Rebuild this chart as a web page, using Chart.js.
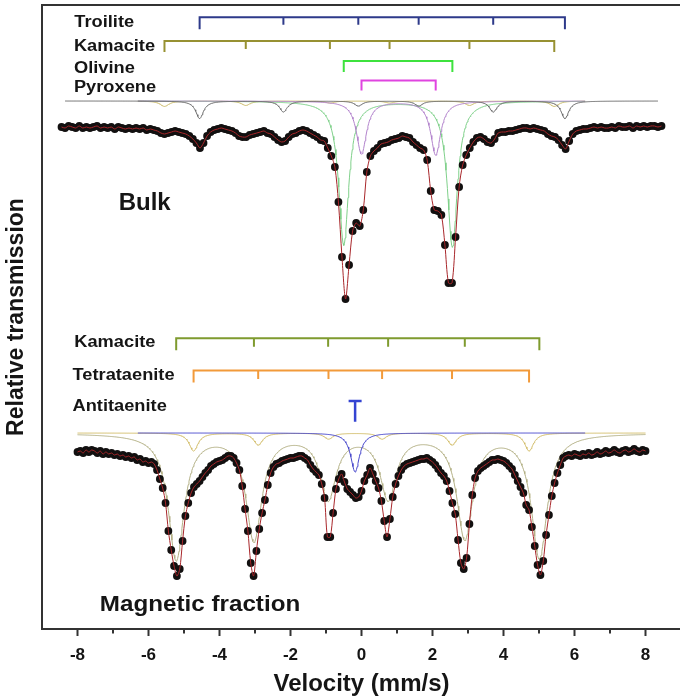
<!DOCTYPE html>
<html>
<head>
<meta charset="utf-8">
<script src="https://cdn.jsdelivr.net/npm/chart.js@4.4.0/dist/chart.umd.min.js"></script>
<style>
  html, body { margin: 0; padding: 0; background: #fff; overflow: hidden; }
  #wrap { width: 680px; height: 699px; overflow: hidden; }
</style>
</head>
<body>
<div id="wrap"><canvas id="spectrum-chart" width="690" height="699"></canvas></div>
<script>
// velocity calibration of the channels (mm/s)
const bulkV0 = -8.45, bulkStep = 0.1;
const magV0 = -8.0, magStep = 0.08;

// bulk sample, relative transmission (%)
const bulkT = [
  100.00, 99.95, 100.05, 100.00, 99.95, 100.05, 99.95, 100.00, 99.95, 100.00,
  100.05, 99.95, 100.00, 99.95, 100.00, 99.90, 100.00, 99.95, 99.90, 99.95,
  99.90, 99.95, 99.90, 99.95, 99.85, 99.90, 99.85, 99.80, 99.70, 99.65,
  99.70, 99.75, 99.80, 99.75, 99.70, 99.65, 99.55, 99.40, 99.20, 98.95,
  99.20, 99.55, 99.75, 99.85, 99.90, 99.95, 99.90, 99.85, 99.80, 99.70,
  99.55, 99.50, 99.50, 99.60, 99.65, 99.70, 99.75, 99.80, 99.70, 99.65,
  99.50, 99.35, 99.25, 99.30, 99.50, 99.65, 99.70, 99.80, 99.85, 99.80,
  99.70, 99.60, 99.50, 99.35, 99.30, 98.95, 98.55, 98.00, 96.25, 93.50,
  91.40, 93.10, 94.80, 95.20, 95.05, 95.85, 97.75, 98.55, 98.80, 98.95,
  99.15, 99.20, 99.25, 99.35, 99.40, 99.45, 99.55, 99.50, 99.45, 99.25,
  99.10, 98.95, 98.85, 98.35, 96.80, 95.85, 95.80, 95.60, 94.10, 92.20,
  92.20, 94.50, 97.00, 98.10, 98.60, 98.95, 99.25, 99.45, 99.50, 99.40,
  99.25, 99.20, 99.40, 99.70, 99.75, 99.75, 99.80, 99.80, 99.85, 99.90,
  99.95, 99.95, 99.90, 99.95, 99.90, 99.85, 99.80, 99.65, 99.55, 99.50,
  99.35, 99.10, 98.90, 99.30, 99.65, 99.80, 99.85, 99.90, 99.90, 99.95,
  100.00, 99.95, 100.00, 99.95, 99.95, 100.00, 99.95, 100.05, 100.00, 100.00,
  100.05, 99.95, 100.05, 100.00, 100.05, 100.00, 100.05, 100.05, 100.00, 100.05
];

// magnetic fraction, relative transmission (%)
const magT = [
  100.05, 100.10, 100.00, 100.15, 100.05, 100.15, 100.10, 100.00, 100.10, 99.95,
  100.05, 99.95, 100.00, 99.90, 99.95, 99.85, 99.90, 99.80, 99.85, 99.75,
  99.80, 99.65, 99.70, 99.55, 99.60, 99.50, 99.55, 99.45, 99.15, 98.70,
  98.25, 97.50, 96.10, 95.15, 94.35, 93.85, 94.20, 95.60, 96.85, 97.50,
  98.00, 98.30, 98.45, 98.60, 98.80, 99.00, 99.15, 99.35, 99.45, 99.55,
  99.60, 99.65, 99.75, 99.85, 99.85, 99.75, 99.50, 99.15, 98.35, 97.20,
  96.10, 94.50, 93.85, 95.10, 96.20, 97.00, 97.65, 98.40, 99.00, 99.30,
  99.45, 99.50, 99.60, 99.65, 99.70, 99.75, 99.75, 99.80, 99.85, 99.85,
  99.75, 99.65, 99.40, 99.20, 99.05, 98.90, 98.45, 97.75, 95.80, 95.80,
  97.00, 98.20, 98.70, 98.95, 98.55, 98.20, 98.05, 97.90, 97.75, 97.80,
  98.10, 98.60, 98.90, 99.25, 98.95, 98.60, 98.25, 97.60, 96.60, 95.80,
  96.70, 97.80, 98.45, 98.85, 99.15, 99.35, 99.45, 99.50, 99.55, 99.60,
  99.65, 99.70, 99.70, 99.75, 99.65, 99.55, 99.40, 99.20, 99.00, 98.85,
  98.60, 98.10, 97.50, 96.95, 95.65, 94.50, 94.20, 94.75, 96.45, 97.90,
  98.75, 99.10, 99.25, 99.35, 99.45, 99.55, 99.65, 99.65, 99.70, 99.65,
  99.60, 99.50, 99.35, 99.20, 98.90, 98.60, 98.30, 98.00, 97.40, 97.15,
  96.30, 95.35, 94.40, 93.90, 94.60, 95.90, 96.90, 97.85, 98.50, 99.00,
  99.40, 99.75, 99.85, 99.90, 99.85, 99.95, 99.90, 99.85, 99.95, 99.90,
  100.00, 99.90, 99.95, 100.05, 99.95, 100.00, 100.10, 100.00, 100.05, 100.15,
  100.05, 100.00, 100.10, 100.15, 100.05, 100.10, 100.20, 100.10, 100.05, 100.15,
  100.10
];

// sub-spectra: line positions (mm/s), depths (%), half widths (mm/s)
const troiliteLines = [-4.56, -2.20, -0.09, 1.61, 3.71, 5.73];
const troiliteDepth = [0.88, 0.55, 0.25, 0.25, 0.55, 0.88];
const bulkKamaciteLines = [-5.55, -3.26, -0.89, 0.79, 3.04, 5.43];
const bulkKamaciteDepth = [0.27, 0.22, 0.10, 0.10, 0.22, 0.27];
const olivineLines = [-0.50, 2.56];
const olivineDepth = [7.2, 7.3];
const pyroxeneLines = [0.00, 2.09];
const pyroxeneDepth = [2.65, 2.70];
const magKamaciteLines = [-5.22, -3.03, -0.94, 0.75, 2.91, 5.01];
const magKamaciteDepth = [6.3, 5.3, 3.2, 3.2, 5.2, 6.2];
const tetrataeniteLines = [-4.73, -2.91, -0.93, 0.58, 2.55, 4.72];
const tetrataeniteDepth = [0.9, 0.6, 0.3, 0.3, 0.6, 0.9];
const antitaeniteLines = [-0.18];
const antitaeniteDepth = [1.95];

const xTicks = [-8, -6, -4, -2, 0, 2, 4, 6, 8];

// layout (plot units): where each spectrum and its component curves sit
const magShift = -16.3;
const bulkCompBase = 101.3;
const magCompBase = 84.7;

const FONT = "'Liberation Sans', Arial, Helvetica, sans-serif";
const INK = '#151515';
Chart.defaults.font.family = FONT;

function channelPoints(v0, step, values, shift) {
  return values.map(function (t, i) {
    return { x: +(v0 + i * step).toFixed(3), y: t + shift };
  });
}

// Lorentzian sub-spectrum from its line parameters
function subSpectrum(lines, depths, hw, base, from, to) {
  var pts = [];
  for (var v = from; v <= to + 1e-9; v += 0.02) {
    var y = base;
    for (var k = 0; k < lines.length; k++) {
      var u = (v - lines[k]) / hw;
      y -= depths[k] / (1 + u * u);
    }
    pts.push({ x: v, y: y });
  }
  return pts;
}

var bulkPts = channelPoints(bulkV0, bulkStep, bulkT, 0);
var magPts = channelPoints(magV0, magStep, magT, magShift);

function dots(pts) {
  return { data: pts, showLine: false, pointRadius: 3.9, pointBackgroundColor: '#121010',
           pointBorderWidth: 0, order: 1 };
}
function fit(pts) {
  return { data: pts, borderColor: '#a8262a', borderWidth: 1, pointRadius: 0, tension: 0.3, order: 0 };
}
function comp(pts, color, order) {
  return { data: pts, borderColor: color, borderWidth: 1, pointRadius: 0, tension: 0, order: order };
}

// brackets above each spectrum (row = plot units, tick lengths in px)
const brackets = [
  { lines: troiliteLines, row: 105.49, color: '#2e3a8a', endLen: 12, tickLen: 7.5 },
  { lines: bulkKamaciteLines, row: 104.30, color: '#979132', endLen: 11, tickLen: 8 },
  { lines: olivineLines, row: 103.30, color: '#3ee23e', endLen: 11, tickLen: 8 },
  { lines: pyroxeneLines, row: 102.32, color: '#e044e0', endLen: 10, tickLen: 8 },
  { lines: magKamaciteLines, row: 89.44, color: '#7f9b2f', endLen: 12, tickLen: 8.5 },
  { lines: tetrataeniteLines, row: 87.82, color: '#f29a3a', endLen: 12, tickLen: 8.5 }
];
const singlet = { line: antitaeniteLines[0], row: 86.30, color: '#3444d2', half: 6.5, stem: 20.7 };

const notes = [
  { text: 'Troilite', v: -8.09, t: 105.015, size: 16, sx: 1.14 },
  { text: 'Kamacite', v: -8.10, t: 103.815, size: 16, sx: 1.14 },
  { text: 'Olivine', v: -8.10, t: 102.715, size: 16, sx: 1.14 },
  { text: 'Pyroxene', v: -8.10, t: 101.765, size: 16, sx: 1.14 },
  { text: 'Bulk', v: -6.84, t: 95.85, size: 24, sx: 1.0 },
  { text: 'Kamacite', v: -8.09, t: 89.015, size: 16, sx: 1.14 },
  { text: 'Tetrataenite', v: -8.14, t: 87.35, size: 16, sx: 1.14 },
  { text: 'Antitaenite', v: -8.14, t: 85.815, size: 16, sx: 1.14 },
  { text: 'Magnetic fraction', v: -7.37, t: 75.825, size: 22, sx: 1.1 }
];

var decorations = {
  id: 'decorations',
  afterDatasetsDraw: function (chart) {
    var ctx = chart.ctx, xs = chart.scales.x, ys = chart.scales.y, area = chart.chartArea;
    ctx.save();
    // frame top
    ctx.strokeStyle = '#333';
    ctx.lineWidth = 2;
    ctx.beginPath();
    ctx.moveTo(area.left - 1, area.top);
    ctx.lineTo(chart.width, area.top);
    ctx.stroke();
    // minor ticks
    for (var m = -7; m <= 7; m += 2) {
      var mx = xs.getPixelForValue(m);
      ctx.beginPath();
      ctx.moveTo(mx, area.bottom);
      ctx.lineTo(mx, area.bottom + 4.5);
      ctx.stroke();
    }
    // brackets
    brackets.forEach(function (b) {
      var y = ys.getPixelForValue(b.row);
      var x0 = xs.getPixelForValue(b.lines[0]);
      var x1 = xs.getPixelForValue(b.lines[b.lines.length - 1]);
      ctx.strokeStyle = b.color;
      ctx.lineWidth = 2;
      ctx.beginPath();
      ctx.moveTo(x0, y + b.endLen);
      ctx.lineTo(x0, y);
      ctx.lineTo(x1, y);
      ctx.lineTo(x1, y + b.endLen);
      for (var i = 1; i < b.lines.length - 1; i++) {
        var xi = xs.getPixelForValue(b.lines[i]);
        ctx.moveTo(xi, y);
        ctx.lineTo(xi, y + b.tickLen);
      }
      ctx.stroke();
    });
    var sx = xs.getPixelForValue(singlet.line), sy = ys.getPixelForValue(singlet.row);
    ctx.strokeStyle = singlet.color;
    ctx.lineWidth = 2.5;
    ctx.beginPath();
    ctx.moveTo(sx - singlet.half, sy);
    ctx.lineTo(sx + singlet.half, sy);
    ctx.moveTo(sx, sy);
    ctx.lineTo(sx, sy + singlet.stem);
    ctx.stroke();
    // text labels
    ctx.fillStyle = INK;
    ctx.textAlign = 'left';
    ctx.textBaseline = 'alphabetic';
    notes.forEach(function (n) {
      ctx.save();
      ctx.translate(xs.getPixelForValue(n.v), ys.getPixelForValue(n.t));
      ctx.scale(n.sx, 1);
      ctx.font = 'bold ' + n.size + 'px ' + FONT;
      ctx.fillText(n.text, 0, 0);
      ctx.restore();
    });
    ctx.restore();
  }
};

function isMajor(v) { return xTicks.indexOf(v) !== -1; }

var ctx = document.getElementById('spectrum-chart').getContext('2d');
var chart = new Chart(ctx, {
  type: 'line',
  data: {
    datasets: [
      fit(bulkPts),
      dots(bulkPts),
      fit(magPts),
      dots(magPts),
      comp(subSpectrum(troiliteLines, troiliteDepth, 0.13, bulkCompBase, -8.35, 8.35), '#6a6a6a', 2),
      comp(subSpectrum(pyroxeneLines, pyroxeneDepth, 0.17, bulkCompBase, -6.3, 6.3), '#b283cc', 3),
      comp(subSpectrum(olivineLines, olivineDepth, 0.17, bulkCompBase, -6.3, 6.3), '#7fd08a', 4),
      comp(subSpectrum(bulkKamaciteLines, bulkKamaciteDepth, 0.15, bulkCompBase, -6.3, 6.3), '#cbbb6c', 5),
      comp(subSpectrum(antitaeniteLines, antitaeniteDepth, 0.15, magCompBase, -6.3, 6.3), '#4848cc', 2),
      comp(subSpectrum(tetrataeniteLines, tetrataeniteDepth, 0.15, magCompBase, -8.0, 8.0), '#d2bd6a', 3),
      comp(subSpectrum(magKamaciteLines, magKamaciteDepth, 0.27, magCompBase, -8.0, 8.0), '#b3b085', 4)
    ]
  },
  options: {
    responsive: false,
    animation: false,
    events: [],
    layout: { padding: { top: 5, right: 2, left: 0, bottom: 0 } },
    plugins: { legend: { display: false }, tooltip: { enabled: false } },
    scales: {
      x: {
        type: 'linear', min: -9, max: 9,
        afterFit: function (s) { s.height = 70; },
        border: { display: true, color: '#333', width: 2 },
        grid: {
          drawOnChartArea: false, drawTicks: true, tickLength: 7, tickWidth: 2,
          tickColor: function (c) { return isMajor(c.tick.value) ? '#333' : 'rgba(0,0,0,0)'; }
        },
        ticks: {
          stepSize: 1, autoSkip: false, maxRotation: 0, padding: 9, color: INK,
          font: { size: 17, weight: 'bold' },
          callback: function (v) { return isMajor(v) ? String(v) : ''; }
        },
        title: { display: true, text: 'Velocity (mm/s)', color: INK,
                 font: { size: 24, weight: 'bold' }, padding: { top: 0, bottom: 0 } }
      },
      y: {
        min: 74.9, max: 106.1,
        afterFit: function (s) { s.width = 42; },
        border: { display: true, color: '#333', width: 2 },
        grid: { display: false },
        ticks: { display: false },
        title: { display: true, text: 'Relative transmission', color: INK,
                 font: { size: 23, weight: 'bold' }, padding: { top: 3, bottom: 0 } }
      }
    }
  },
  plugins: [decorations]
});
</script>
</body>
</html>
